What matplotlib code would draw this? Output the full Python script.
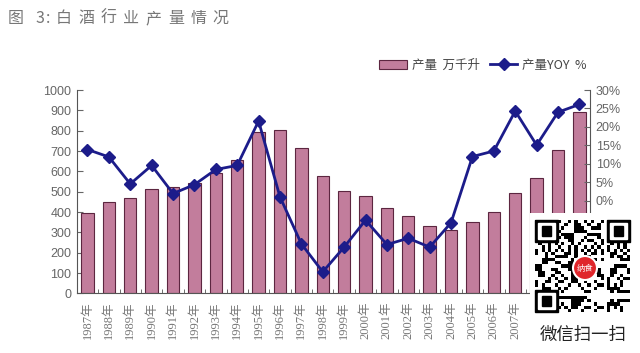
import numpy as np
import matplotlib.pyplot as plt
from matplotlib.patches import Rectangle, Circle

plt.rcParams['font.family'] = ['Liberation Serif', 'Noto Sans CJK SC', 'DejaVu Sans']

# data
years = list(range(1987, 2011))
output = [395, 448, 470, 515, 522, 542, 592, 655, 795, 803, 713, 575,
          503, 480, 420, 380, 331, 312, 349, 398, 493, 569, 707, 891]
yoy = [13.9, 11.9, 4.6, 9.6, 2.0, 4.4, 8.5, 9.6, 21.6, 1.1, -11.6, -19.2,
       -12.5, -5.2, -11.8, -10.1, -12.5, -5.9, 12.0, 13.5, 24.3, 15.1, 24.0, 26.1]
xlabels = [f'{y}年' for y in years]
title = '图 3:白酒行业产量情况'

grey = '#666666'
fig = plt.figure(figsize=(6.4, 3.53), dpi=100)
ax = fig.add_axes([0.12, 0.169, 0.802, 0.576])
x = np.arange(len(years))

ax.bar(x, output, width=0.58, color='#c27d9c', edgecolor='#5c2640', linewidth=0.8,
       label='产量  万千升', zorder=2)
ax.set_xlim(-0.5, len(years) - 0.5)
ax.set_ylim(0, 1000)
ax.set_yticks(range(0, 1001, 100))
ax.set_xticks(x)
ax.set_xticklabels(xlabels, rotation=90, fontsize=9, color='#777777',
                   family=['Liberation Serif', 'Noto Sans CJK SC'])
# the last three year labels sit under the QR sticker in the reference
for lab in ax.get_xticklabels()[-3:]:
    lab.set_visible(False)
ax.set_xticks(x[:-1] + 0.5, minor=True)
ax.tick_params(axis='x', which='major', length=0, pad=6)
ax.tick_params(axis='x', which='minor', length=3, direction='in', color='#555555')
ax.tick_params(axis='y', direction='in', length=4, labelsize=9, colors=grey, pad=4)
for lab in ax.get_yticklabels():
    lab.set_family(['Liberation Sans'])
ax.spines['top'].set_visible(False)
ax.spines['right'].set_visible(False)
ax.spines['left'].set_color('#555555')
ax.spines['bottom'].set_color('#555555')

ax2 = ax.twinx()
ax2.plot(x, yoy, color='#1c1c8a', linewidth=2, marker='D', markersize=6.5,
         label='产量YOY  %', zorder=3)
ax2.set_ylim(-25, 30)
ax2.set_yticks(range(-25, 31, 5))
ax2.set_yticklabels([f'{v}%' for v in range(-25, 31, 5)], family=['Liberation Sans'])
ax2.tick_params(axis='y', direction='in', length=4, labelsize=9, colors=grey, pad=4)
ax2.spines['top'].set_visible(False)
ax2.spines['left'].set_visible(False)
ax2.spines['bottom'].set_visible(False)
ax2.spines['right'].set_color('#555555')

h1, l1 = ax.get_legend_handles_labels()
h2, l2 = ax2.get_legend_handles_labels()
fig.legend(h1 + h2, l1 + l2, loc='center', bbox_to_anchor=(0.755, 0.815), ncol=2,
           frameon=False, labelcolor='#444444', handlelength=2.2,
           columnspacing=0.8, handletextpad=0.4,
           prop={'family': ['Noto Sans CJK SC'], 'size': 9})

# title with wide letter spacing, one character at a time
xpos = 8
for ch in title:
    fig.text(xpos / 640, 0.947, ch, fontsize=11.5, color='#777777',
             family=['Noto Sans CJK SC'], va='center')
    if ch == ' ':
        xpos += 12
    elif ch in '3:':
        xpos += 10.5
    elif ch == '图':
        xpos += 15
    else:
        xpos += 22.4

# QR code sticker overlapping the lower right corner (pixel coords inside)
sw, sh = 110, 140
qa = fig.add_axes([530 / 640, 0, sw / 640, sh / 353])
qa.axis('off')
n = 29
ii, jj = np.meshgrid(np.arange(n), np.arange(n))
grid = ((ii * 7 + jj * 13 + ii * jj * 3 + (ii ^ jj)) % 5) < 2
qx0, qy0, qw, qh = 5, 7, 95, 92
qa.imshow(grid, cmap='Greys', extent=(qx0, qx0 + qw, qy0 + qh, qy0),
          interpolation='nearest', zorder=1, aspect='auto')
qa.set_xlim(0, sw)
qa.set_ylim(sh, 0)
qa.add_patch(Rectangle((0, 0), sw, sh, color='white', zorder=0))
cw, chh = qw / n, qh / n
for (fi, fj) in [(0, 0), (n - 7, 0), (0, n - 7)]:
    bx, by = qx0 + fi * cw, qy0 + fj * chh
    qa.add_patch(Rectangle((bx, by), 7 * cw, 7 * chh, color='black', zorder=2))
    qa.add_patch(Rectangle((bx + cw, by + chh), 5 * cw, 5 * chh, color='white', zorder=3))
    qa.add_patch(Rectangle((bx + 2 * cw, by + 2 * chh), 3 * cw, 3 * chh, color='black', zorder=4))
qa.add_patch(Circle((55, 55), 12, color='#e0262b', ec='white', lw=1.5, zorder=5))
qa.text(55, 55, '纳食', color='white', fontsize=6, ha='center',
        va='center', family=['Noto Sans CJK SC'], zorder=6)
qa.text(53, 122, '微信扫一扫', fontsize=12.5, color='#222222', ha='center',
        va='center', family=['Noto Sans CJK SC'])

fig.savefig('out.png', dpi=100)
